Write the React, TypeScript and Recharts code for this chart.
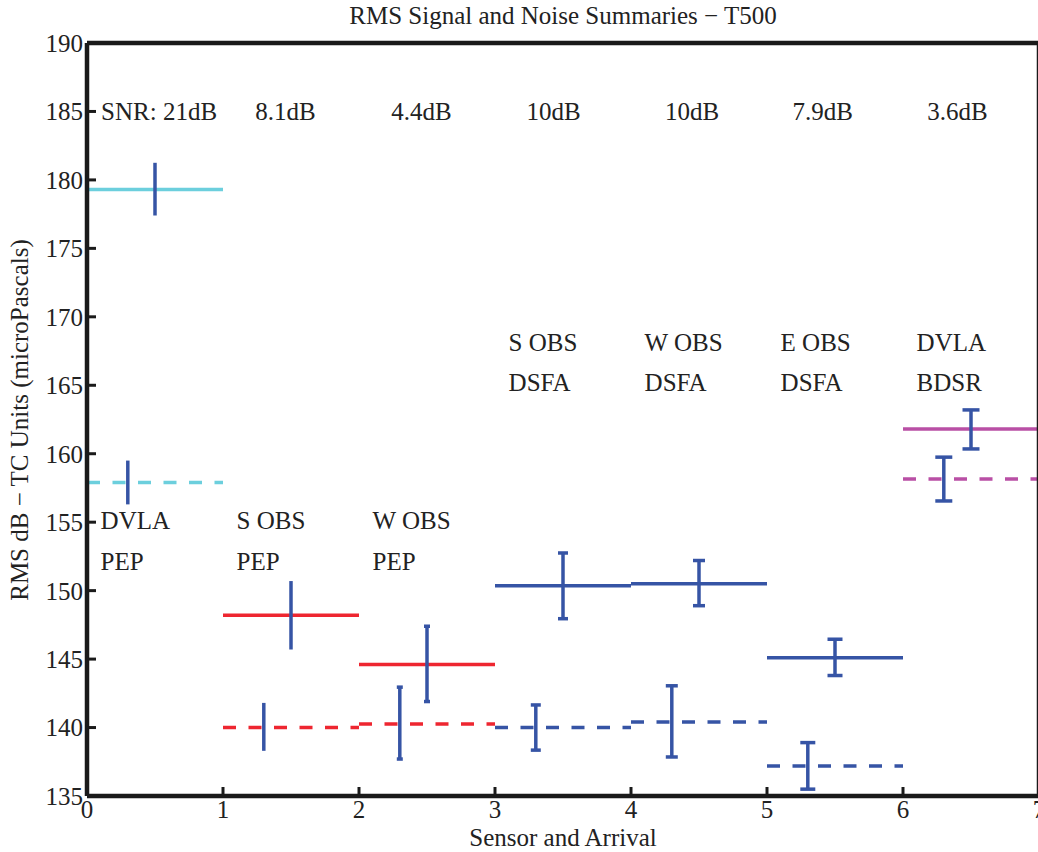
import { ComposedChart, Line, Scatter, ErrorBar, XAxis, YAxis } from "recharts";

// one segment per sensor/arrival, x from i to i+1
const segmentStart = [0, 1, 2, 3, 4, 5, 6];
const signalRms = [179.3, 148.2, 144.6, 150.35, 150.5, 145.1, 161.8];
const noiseRms = [157.9, 140.0, 140.25, 140.0, 140.4, 137.2, 158.15];

// error bars (low / high) for signal and noise
const signalBarX = [0.5, 1.5, 2.5, 3.5, 4.5, 5.5, 6.5];
const signalLow = [177.4, 145.7, 141.9, 147.95, 148.9, 143.8, 160.35];
const signalHigh = [181.25, 150.7, 147.4, 152.75, 152.2, 146.45, 163.2];
const noiseBarX = [0.3, 1.3, 2.3, 3.3, 4.3, 5.3, 6.3];
const noiseLow = [156.3, 138.3, 137.7, 138.35, 137.85, 135.5, 156.55];
const noiseHigh = [159.5, 141.8, 142.95, 141.65, 143.05, 138.9, 159.75];

const snrLabels = ["SNR: 21dB", "8.1dB", "4.4dB", "10dB", "10dB", "7.9dB", "3.6dB"];
const snrLabelX = [0.53, 1.46, 2.46, 3.43, 4.45, 5.41, 6.4];
const sensorNames = ["DVLA", "S OBS", "W OBS", "S OBS", "W OBS", "E OBS", "DVLA"];
const arrivalNames = ["PEP", "PEP", "PEP", "DSFA", "DSFA", "DSFA", "BDSR"];

const xTicks = [0, 1, 2, 3, 4, 5, 6, 7];
const yTicks = [135, 140, 145, 150, 155, 160, 165, 170, 175, 180, 185, 190];

// styling
const CYAN = "#6ccfdd";
const RED = "#ee2630";
const BLUE = "#3654a5";
const MAGENTA = "#b94fa5";
const segColors = [CYAN, RED, RED, BLUE, BLUE, BLUE, MAGENTA];
const capHalfWidth = [0, 0, 3, 5, 6, 7.5, 8.5];
const FONT = "'Liberation Serif', 'Times New Roman', serif";
const INK = "#222";

const mid = (a: number, b: number) => (a + b) / 2;

const barData = segmentStart.map((_, i) => [
  {
    x: signalBarX[i],
    y: mid(signalLow[i], signalHigh[i]),
    err: [mid(signalLow[i], signalHigh[i]) - signalLow[i], signalHigh[i] - mid(signalLow[i], signalHigh[i])],
  },
  {
    x: noiseBarX[i],
    y: mid(noiseLow[i], noiseHigh[i]),
    err: [mid(noiseLow[i], noiseHigh[i]) - noiseLow[i], noiseHigh[i] - mid(noiseLow[i], noiseHigh[i])],
  },
]);

const annotations = [
  ...snrLabels.map((t, i) => ({ x: snrLabelX[i], y: 185, text: t, anchor: "middle" })),
  ...sensorNames.map((t, i) => ({ x: segmentStart[i] + 0.1, y: i < 3 ? 155.1 : 168.1, text: t, anchor: "start" })),
  ...arrivalNames.map((t, i) => ({ x: segmentStart[i] + 0.1, y: i < 3 ? 152.1 : 165.2, text: t, anchor: "start" })),
];

const TextMark = (props: any) => {
  const { cx, cy, payload } = props;
  return (
    <text x={cx} y={cy} textAnchor={payload.anchor} dominantBaseline="central" fontFamily={FONT} fontSize={25} fill={INK}>
      {payload.text}
    </text>
  );
};

const tickStyle = { fontFamily: FONT, fontSize: 25, fill: INK };
const axisLine = { stroke: "#1a1a1a", strokeWidth: 4.5 };
const tickLine = { stroke: "#1a1a1a", strokeWidth: 3 };

export default function App() {
  return (
    <div style={{ position: "absolute", left: 0, top: 0, width: 1038, height: 852, overflow: "hidden", background: "#fff" }}>
      <ComposedChart width={1062} height={852} margin={{ top: 40, right: 20, bottom: 0, left: 0 }}>
        <XAxis
          dataKey="x"
          type="number"
          domain={[0, 7]}
          ticks={xTicks}
          allowDataOverflow
          height={56}
          tickSize={-9}
          tickMargin={13}
          tick={tickStyle}
          axisLine={axisLine}
          tickLine={tickLine}
          interval={0}
        />
        <XAxis xAxisId="top" orientation="top" type="number" domain={[0, 7]} ticks={xTicks} allowDataOverflow height={3} tickSize={-9} tick={false} axisLine={axisLine} tickLine={tickLine} />
        <YAxis
          dataKey="y"
          type="number"
          domain={[135, 190]}
          ticks={yTicks}
          allowDataOverflow
          width={87}
          tickSize={-9}
          tickMargin={13}
          tick={tickStyle}
          axisLine={axisLine}
          tickLine={tickLine}
          interval={0}
        />
        <YAxis yAxisId="right" orientation="right" type="number" domain={[135, 190]} ticks={yTicks} allowDataOverflow width={3} tickSize={-9} tick={false} axisLine={axisLine} tickLine={tickLine} />

        {segmentStart.map((s, i) => (
          <Line
            key={"sig" + i}
            data={[{ x: s, y: signalRms[i] }, { x: s + 1, y: signalRms[i] }]}
            dataKey="y"
            stroke={segColors[i]}
            strokeWidth={3.5}
            dot={false}
            activeDot={false}
            isAnimationActive={false}
          />
        ))}
        {segmentStart.map((s, i) => (
          <Line
            key={"noise" + i}
            data={[{ x: s, y: noiseRms[i] }, { x: s + 1, y: noiseRms[i] }]}
            dataKey="y"
            stroke={segColors[i]}
            strokeWidth={3.5}
            strokeDasharray="13 12.5"
            dot={false}
            activeDot={false}
            isAnimationActive={false}
          />
        ))}
        {segmentStart.map((_, i) => (
          <Scatter key={"bar" + i} data={barData[i]} shape={() => <g />} isAnimationActive={false}>
            <ErrorBar dataKey="err" direction="y" width={capHalfWidth[i]} stroke={BLUE} strokeWidth={3.5} />
          </Scatter>
        ))}
        <Scatter data={annotations} shape={TextMark} isAnimationActive={false} />
      </ComposedChart>

      <svg width={1038} height={852} style={{ position: "absolute", left: 0, top: 0, pointerEvents: "none" }}>
        <text x={563} y={15} textAnchor="middle" dominantBaseline="central" fontFamily={FONT} fontSize={25} fill={INK}>
          RMS Signal and Noise Summaries − T500
        </text>
        <text x={563} y={837} textAnchor="middle" dominantBaseline="central" fontFamily={FONT} fontSize={25} fill={INK}>
          Sensor and Arrival
        </text>
        <text
          x={0}
          y={0}
          transform="translate(19 420) rotate(-90)"
          textAnchor="middle"
          dominantBaseline="central"
          fontFamily={FONT}
          fontSize={25}
          fill={INK}
        >
          RMS dB − TC Units (microPascals)
        </text>
      </svg>
    </div>
  );
}
